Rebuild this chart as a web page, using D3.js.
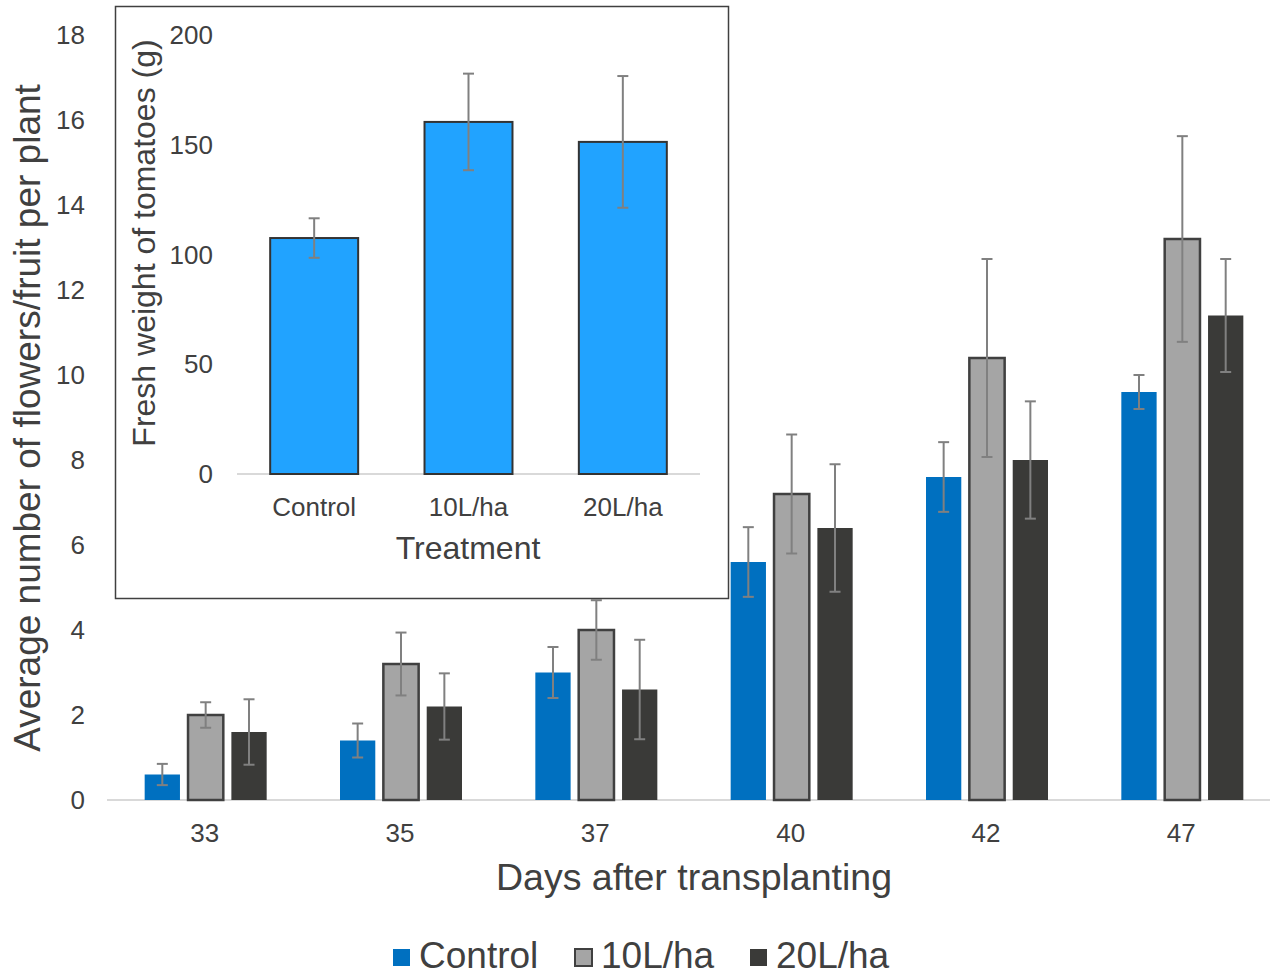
<!doctype html>
<html lang="en">
<head>
<meta charset="utf-8">
<title>Flowers/fruit per plant and fresh weight of tomatoes</title>
<script src="https://cdn.jsdelivr.net/npm/d3@7/dist/d3.min.js"></script>
<style>
	html, body { margin: 0; padding: 0; background: #fff; }
	svg { display: block; font-family: "Liberation Sans", Arial, sans-serif; }
</style>
</head>
<body>
<svg id="chart" width="1270" height="976"></svg>
<script>
(function () {
	"use strict";

	// main chart: days after transplanting
	var days = ["33", "35", "37", "40", "42", "47"];
	var treatments = ["Control", "10L/ha", "20L/ha"];
	var controlMean = [0.6, 1.4, 3.0, 5.6, 7.6, 9.6];
	var controlErr = [0.25, 0.4, 0.6, 0.82, 0.82, 0.4];
	var tenMean = [2.0, 3.2, 4.0, 7.2, 10.4, 13.2];
	var tenErr = [0.3, 0.74, 0.7, 1.4, 2.33, 2.42];
	var twentyMean = [1.6, 2.2, 2.6, 6.4, 8.0, 11.4];
	var twentyErr = [0.77, 0.78, 1.17, 1.5, 1.38, 1.33];
	var yTicks = [0, 2, 4, 6, 8, 10, 12, 14, 16, 18];

	// inset: fresh weight
	var insetCats = ["Control", "10L/ha", "20L/ha"];
	var insetMean = [107.5, 160.4, 151.3];
	var insetErr = [9, 22, 30];
	var insetTicks = [0, 50, 100, 150, 200];

	var colors = { "Control": "#0070C0", "10L/ha": "#A5A5A5", "20L/ha": "#3A3A38" };
	var strokes = { "Control": "none", "10L/ha": "#404040", "20L/ha": "none" };
	var textCol = "#404040";

	var series = treatments.map(function (t, i) {
		var m = [controlMean, tenMean, twentyMean][i],
			e = [controlErr, tenErr, twentyErr][i];
		return days.map(function (d, j) {
			return { day: d, key: t, value: m[j], err: e[j] };
		});
	});

	var svg = d3.select("#chart");

	// ---------- main chart ----------
	var x = d3.scaleBand().domain(days).range([107, 1279]);
	var inner = d3.scaleBand().domain(treatments).range([-60, 62]).paddingInner(0.186);
	var y = d3.scaleLinear().domain([0, 18]).range([800, 35]);

	var main = svg.append("g");

	main.append("g").selectAll("text")
		.data(yTicks).join("text")
		.attr("x", 85).attr("y", function (d) { return y(d); })
		.attr("dy", "0.35em").attr("text-anchor", "end")
		.attr("font-size", 26).attr("fill", textCol)
		.text(function (d) { return d; });

	main.append("line")
		.attr("x1", 107).attr("x2", 1270)
		.attr("y1", y(0)).attr("y2", y(0))
		.attr("stroke", "#D9D9D9").attr("stroke-width", 2);

	var bars = main.append("g");
	series.forEach(function (s) {
		s.forEach(function (d) {
			var cx = x(d.day) + x.bandwidth() / 2 + inner(d.key);
			bars.append("rect")
				.attr("x", cx).attr("y", y(d.value))
				.attr("width", inner.bandwidth()).attr("height", y(0) - y(d.value))
				.attr("fill", colors[d.key])
				.attr("stroke", strokes[d.key]).attr("stroke-width", 2.5);
		});
	});

	var errs = main.append("g").attr("stroke", "#808080").attr("stroke-width", 2);
	series.forEach(function (s) {
		s.forEach(function (d) {
			var cx = x(d.day) + x.bandwidth() / 2 + inner(d.key) + inner.bandwidth() / 2;
			errs.append("line").attr("x1", cx).attr("x2", cx)
				.attr("y1", y(d.value + d.err)).attr("y2", y(d.value - d.err));
			[d.value + d.err, d.value - d.err].forEach(function (v) {
				errs.append("line").attr("x1", cx - 5.5).attr("x2", cx + 5.5)
					.attr("y1", y(v)).attr("y2", y(v));
			});
		});
	});

	main.append("g").selectAll("text")
		.data(days).join("text")
		.attr("x", function (d) { return x(d) + x.bandwidth() / 2; })
		.attr("y", 842).attr("text-anchor", "middle")
		.attr("font-size", 26).attr("fill", textCol)
		.text(function (d) { return d; });

	main.append("text")
		.attr("x", 694).attr("y", 890).attr("text-anchor", "middle")
		.attr("font-size", 37.5).attr("fill", textCol)
		.text("Days after transplanting");

	main.append("text")
		.attr("transform", "translate(40,418) rotate(-90)")
		.attr("text-anchor", "middle")
		.attr("font-size", 37).attr("fill", textCol)
		.text("Average number of flowers/fruit per plant");

	// legend
	var legend = svg.append("g");
	var legendX = [393, 575, 750];
	treatments.forEach(function (t, i) {
		legend.append("rect")
			.attr("x", legendX[i]).attr("y", 949)
			.attr("width", 17).attr("height", 17)
			.attr("fill", colors[t])
			.attr("stroke", strokes[t]).attr("stroke-width", 2);
		legend.append("text")
			.attr("x", legendX[i] + 26).attr("y", 968)
			.attr("font-size", 37).attr("fill", textCol)
			.text(t);
	});

	// ---------- inset ----------
	var inset = svg.append("g");
	inset.append("rect")
		.attr("x", 115.5).attr("y", 6.5).attr("width", 613).attr("height", 592)
		.attr("fill", "#fff").attr("stroke", "#404040").attr("stroke-width", 1.5);

	var ix = d3.scaleBand().domain(insetCats).range([237, 700]).paddingInner(0.43).paddingOuter(0.215);
	var iy = d3.scaleLinear().domain([0, 200]).range([474, 35]);

	inset.append("g").selectAll("text")
		.data(insetTicks).join("text")
		.attr("x", 213).attr("y", function (d) { return iy(d); })
		.attr("dy", "0.35em").attr("text-anchor", "end")
		.attr("font-size", 26).attr("fill", textCol)
		.text(function (d) { return d; });

	inset.append("line")
		.attr("x1", 237).attr("x2", 700)
		.attr("y1", iy(0)).attr("y2", iy(0))
		.attr("stroke", "#D9D9D9").attr("stroke-width", 2);

	inset.append("g").selectAll("rect")
		.data(insetMean).join("rect")
		.attr("x", function (d, i) { return ix(insetCats[i]); })
		.attr("y", function (d) { return iy(d); })
		.attr("width", ix.bandwidth())
		.attr("height", function (d) { return iy(0) - iy(d); })
		.attr("fill", "#21A3FF").attr("stroke", "#333").attr("stroke-width", 2);

	var ierr = inset.append("g").attr("stroke", "#808080").attr("stroke-width", 2);
	insetMean.forEach(function (m, i) {
		var cx = ix(insetCats[i]) + ix.bandwidth() / 2;
		ierr.append("line").attr("x1", cx).attr("x2", cx)
			.attr("y1", iy(m + insetErr[i])).attr("y2", iy(m - insetErr[i]));
		[m + insetErr[i], m - insetErr[i]].forEach(function (v) {
			ierr.append("line").attr("x1", cx - 5.5).attr("x2", cx + 5.5)
				.attr("y1", iy(v)).attr("y2", iy(v));
		});
	});

	inset.append("g").selectAll("text")
		.data(insetCats).join("text")
		.attr("x", function (d) { return ix(d) + ix.bandwidth() / 2; })
		.attr("y", 516).attr("text-anchor", "middle")
		.attr("font-size", 26).attr("fill", textCol)
		.text(function (d) { return d; });

	inset.append("text")
		.attr("x", 468).attr("y", 559).attr("text-anchor", "middle")
		.attr("font-size", 32).attr("fill", textCol)
		.text("Treatment");

	inset.append("text")
		.attr("transform", "translate(155,243) rotate(-90)")
		.attr("text-anchor", "middle")
		.attr("font-size", 32).attr("fill", textCol)
		.text("Fresh weight of tomatoes (g)");
})();
</script>
</body>
</html>
